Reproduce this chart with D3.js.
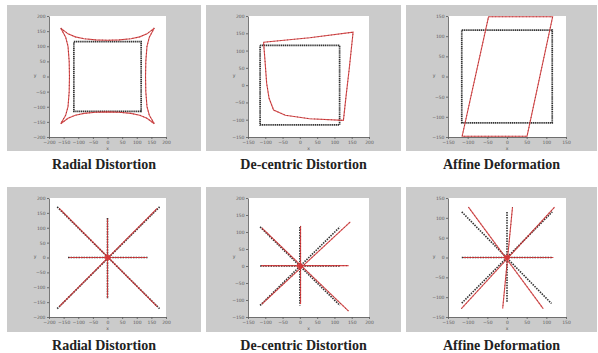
<!DOCTYPE html>
<html><head><meta charset="utf-8">
<script src="https://cdn.jsdelivr.net/npm/d3@7"></script>
<style>
html,body{margin:0;padding:0;background:#fff;}
svg{display:block;}
.tick text{font-family:"DejaVu Sans",sans-serif;font-size:4.5px;fill:#5a5a5a;}
.title{font-family:"Liberation Serif",serif;font-weight:bold;font-size:14px;fill:#222;}
</style>
</head><body>
<svg id="c" width="598" height="353"></svg>
<script>
// ---------- data ----------
const titles = ["Radial Distortion","De-centric Distortion","Affine Deformation",
                "Radial Distortion","De-centric Distortion","Affine Deformation"];
const ticksRadial = [-200,-150,-100,-50,0,50,100,150,200];
const ticksDecentric = [-150,-100,-50,0,50,100,150,200];
const ticksAffine = [-150,-100,-50,0,50,100,150];

// top row: original square (black) and distorted outline (red)
const squareBlack = [[-115,115],[115,115],[115,-115],[-115,-115],[-115,115]];
const radialRed = [
  [-160,160],[-135,141],[-110,131],[-80,125],[-40,121],[0,120],[40,121],[80,125],[110,131],[135,141],[160,160],
  [143,130],[135,100],[131,50],[130,0],[131,-50],[135,-100],[143,-128],[160,-156],
  [135,-138],[110,-128],[80,-122],[40,-118],[0,-117],[-40,-118],[-80,-122],[-110,-128],[-135,-138],[-160,-156],
  [-143,-128],[-135,-100],[-131,-50],[-130,0],[-131,50],[-135,100],[-143,130],[-160,160]];
const decentricRed = [[-105,124],[28,137],[154,153],[143,49],[134,-29],[126,-102],[28,-97],[-42,-87],
  [-76,-72],[-89,-38],[-96,5],[-101,73],[-105,124]];
const affineRed = [[-47,148],[116,148],[51,-148],[-114,-148],[-47,148]];

// bottom row: original star lines (black) and distorted lines (red)
const radialStarBlack = [[[-172,170],[178,-172]],[[-172,-172],[178,170]],[[-135,0],[140,0]],[[0,133],[0,-139]]];
const radialStarRed = [[[-165,165],[170,-165]],[[-165,-165],[170,165]],[[-132,0],[135,0]],[[0,130],[0,-135]]];
const decentricStarBlack = [[[-115,115],[116,-116]],[[-115,-116],[116,115]],[[-115,0],[116,0]],[[0,115],[0,-116]]];
const decentricStarRed = [[[-110,112],[141,-133]],[[-110,-112],[146,130]],[[-112,1],[141,1]],[[2,118],[2,-112]]];
const affineStarBlack = [[[-115,115],[113,-116]],[[-115,-115],[115,115]],[[-115,0],[115,0]],[[0,115],[0,-115]]];
const affineStarRed = [[[-98,127],[92,-129]],[[-116,-129],[121,127]],[[-112,0],[118,0]],[[14,127],[-11,-129]]];
const centre = [[0,0]];

// ---------- layout ----------
const svg = d3.select("#c");
const panelX = [[7,201],[206,401],[406,597]];
const rowY = [[5,151],[187,332]];
const plotX = [[49,166],[248,369],[448,566]];
const plotY = [[16,137],[198,317]];
const titleY = [169,350];

const panels = [
  {ticks:ticksRadial, black:[squareBlack], red:[radialRed]},
  {ticks:ticksDecentric, black:[squareBlack], red:[decentricRed]},
  {ticks:ticksAffine, black:[squareBlack], red:[affineRed]},
  {ticks:ticksRadial, black:radialStarBlack, red:radialStarRed, star:true},
  {ticks:ticksDecentric, black:decentricStarBlack, red:decentricStarRed, star:true},
  {ticks:ticksAffine, black:affineStarBlack, red:affineStarRed, star:true}
];

panels.forEach((p,i)=>{
  const col = i%3, row = Math.floor(i/3);
  svg.append("rect").attr("x",panelX[col][0]).attr("y",rowY[row][0])
    .attr("width",panelX[col][1]-panelX[col][0]).attr("height",rowY[row][1]-rowY[row][0])
    .attr("fill","#cbcbcb");
  const x = d3.scaleLinear().domain(d3.extent(p.ticks)).range(plotX[col]);
  const y = d3.scaleLinear().domain(d3.extent(p.ticks)).range([plotY[row][1],plotY[row][0]]);
  svg.append("rect").attr("x",plotX[col][0]).attr("y",plotY[row][0])
    .attr("width",plotX[col][1]-plotX[col][0]).attr("height",plotY[row][1]-plotY[row][0])
    .attr("fill","#fff");
  const g = svg.append("g");
  const clipId = "clip"+i;
  g.append("clipPath").attr("id",clipId).append("rect")
    .attr("x",plotX[col][0]-3).attr("y",plotY[row][0]-3)
    .attr("width",plotX[col][1]-plotX[col][0]+6).attr("height",plotY[row][1]-plotY[row][0]+6);
  const plot = g.append("g").attr("clip-path",`url(#${clipId})`);
  const line = d3.line().x(d=>x(d[0])).y(d=>y(d[1]));
  p.black.forEach(pts=>{
    plot.append("path").attr("d",line(pts)).attr("fill","none")
      .attr("stroke","#333").attr("stroke-width",p.star?1.6:1.7)
      .attr("stroke-dasharray",p.star?"1.5 1.1":"1.3 0.6");
  });
  p.red.forEach(pts=>{
    plot.append("path").attr("d",line(pts)).attr("fill","none")
      .attr("stroke","#d8383a").attr("stroke-width",1.1).attr("stroke-opacity",0.9);
    plot.append("path").attr("d",line(pts)).attr("fill","none")
      .attr("stroke","#7a2a2a").attr("stroke-width",1.1).attr("stroke-dasharray","0.8 2.6").attr("stroke-opacity",0.7);
  });
  if(p.star){
    plot.selectAll(".ctr").data(centre).enter().append("circle")
      .attr("cx",d=>x(d[0])).attr("cy",d=>y(d[1])).attr("r",3).attr("fill","#d8383a").attr("opacity",0.85);
  }
  const ax = g.append("g").attr("transform",`translate(0,${plotY[row][1]})`)
    .call(d3.axisBottom(x).tickValues(p.ticks).tickSize(2).tickSizeOuter(0).tickPadding(1.5));
  const ay = g.append("g").attr("transform",`translate(${plotX[col][0]},0)`)
    .call(d3.axisLeft(y).tickValues(p.ticks).tickSize(2).tickSizeOuter(0).tickPadding(1.5));
  [ax,ay].forEach(a=>{
    a.select(".domain").attr("stroke","#555").attr("stroke-width",0.8);
    a.selectAll(".tick line").attr("stroke","#555").attr("stroke-width",0.8);
  });
  g.append("text").attr("x",(plotX[col][0]+plotX[col][1])/2).attr("y",plotY[row][1]+13)
    .attr("text-anchor","middle").attr("font-size",4.5).attr("fill","#555")
    .attr("font-family","DejaVu Sans").text("x");
  g.append("text").attr("x",plotX[col][0]-14).attr("y",(plotY[row][0]+plotY[row][1])/2)
    .attr("text-anchor","middle").attr("font-size",4.5).attr("fill","#555")
    .attr("font-family","DejaVu Sans").text("y");
  svg.append("text").attr("class","title")
    .attr("x",(panelX[col][0]+panelX[col][1])/2).attr("y",titleY[row])
    .attr("text-anchor","middle").text(titles[i]);
});
</script>
</body></html>
